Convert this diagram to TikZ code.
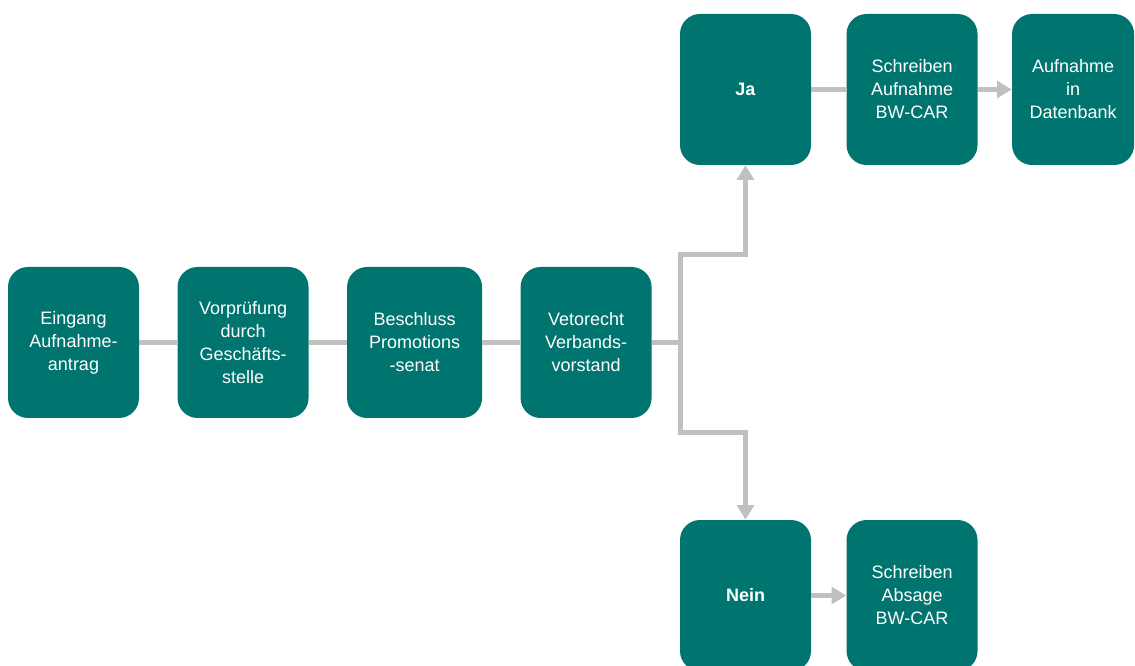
\documentclass[tikz,border=0pt]{standalone}
\usepackage{fontspec}
\setmainfont{Liberation Sans}
\usepackage{tikz}
\usetikzlibrary{arrows.meta,positioning}
\definecolor{bwteal}{RGB}{0,116,111}
\definecolor{linegray}{RGB}{192,192,192}

\begin{document}
\begin{tikzpicture}[x=0.75pt, y=-0.75pt, >={Triangle[width=12.5pt,length=11pt]},
  font=\fontsize{13.5}{17.25}\selectfont,
  box/.style={rectangle, rounded corners=15pt, fill=bwteal, text=white,
              align=center, inner sep=2pt, minimum width=98.25pt,
              minimum height=113.25pt},
  link/.style={draw=linegray, line width=3.75pt}]
  \useasboundingbox (0,0) rectangle (1135,666);
  % main row
  \node[box] (eingang) at (73.5,342.5) {Eingang\\Aufnahme-\\antrag};
  \node[box, right=28.5pt of eingang] (vorpruefung) {Vorprüfung\\durch\\Geschäfts-\\stelle};
  \node[box, minimum width=101.25pt, right=28.5pt of vorpruefung] (beschluss) {Beschluss\\Promotions\\-senat};
  \node[box, right=28.5pt of beschluss] (veto) {Vetorecht\\Verbands-\\vorstand};
  % decision
  \node[box] (ja) at (745.5,89.5) {\textbf{Ja}};
  \node[box, right=26.25pt of ja] (schreibenja) {Schreiben\\Aufnahme\\BW-CAR};
  \node[box, minimum width=91.5pt, right=25.5pt of schreibenja] (datenbank) {Aufnahme\\in\\Datenbank};
  \node[box] (nein) at (745.5,595.5) {\textbf{Nein}};
  \node[box, right=26.25pt of nein] (schreibennein) {Schreiben\\Absage\\BW-CAR};
  \coordinate (split) at (680,342.5);
  \coordinate (up) at (680,255);
  \coordinate (down) at (680,432);
  \draw[link] (eingang) -- (vorpruefung);
  \draw[link] (vorpruefung) -- (beschluss);
  \draw[link] (beschluss) -- (veto);
  \draw[link] (veto) -- (split);
  \draw[link,->] (split) -- (up) -| (ja);
  \draw[link,->] (split) -- (down) -| (nein);
  \draw[link] (ja) -- (schreibenja);
  \draw[link,->] (schreibenja) -- (datenbank);
  \draw[link,->] (nein) -- (schreibennein);
\end{tikzpicture}
\end{document}
